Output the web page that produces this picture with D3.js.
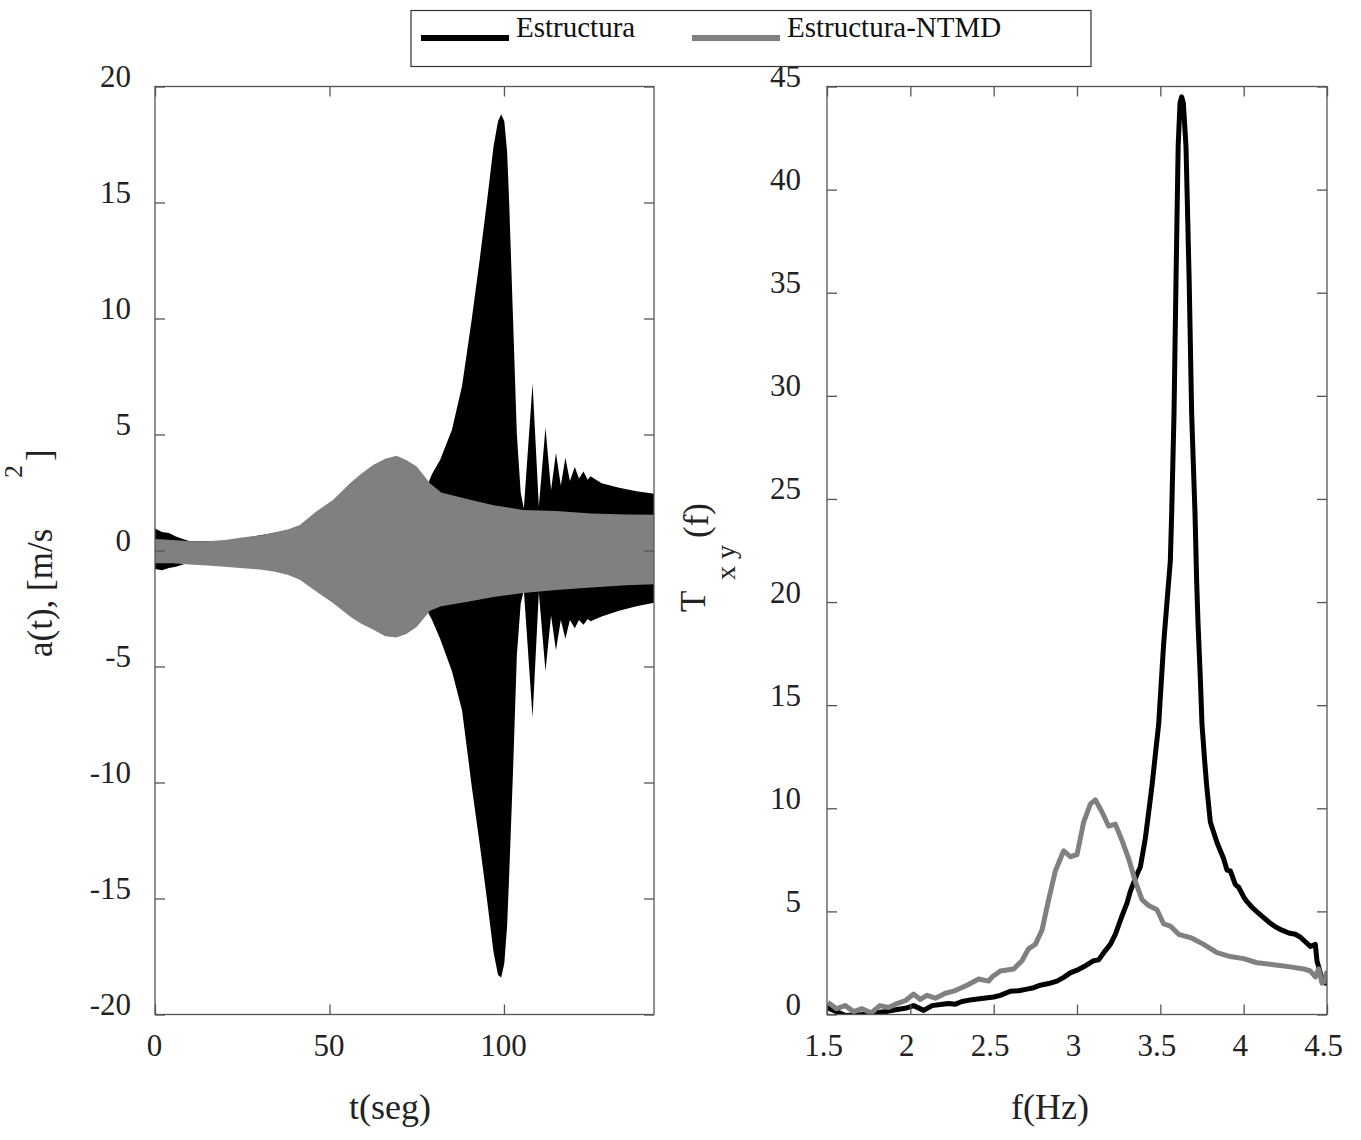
<!DOCTYPE html>
<html>
<head>
<meta charset="utf-8">
<script src="https://cdn.jsdelivr.net/npm/d3@7"></script>
<style>
body { margin: 0; background: #fff; }
svg { font-family: "Liberation Serif", "Times New Roman", serif; }
.axis path { stroke: none; }
.axis line { stroke: #555; stroke-width: 1.3; }
.axis text { fill: #222; font-size: 31px; font-family: "Liberation Serif", "Times New Roman", serif; }
.frame { fill: none; stroke: #555; stroke-width: 1.3; }
</style>
</head>
<body>
<div id="chart"></div>
<script>
// time history envelopes, a(t) in m/s^2
const timeBlack = [0, 2, 4, 6, 8, 10, 20, 40, 60, 76, 78, 79.4, 81.7, 85.1, 88, 90.8, 93.1, 95.1, 97, 98.3, 99.2, 100.1, 100.9,
    101.5, 102.6, 103.7, 104.8, 105.7, 108.2, 110, 111.9, 113.5, 114.9, 116.3, 117.6, 118.9, 120.3, 121.5, 122.8,
    124, 124.8, 128, 133, 138, 143];
const upperBlack = [0.95, 0.8, 0.75, 0.6, 0.5, 0.4, 0.4, 0.9, 2.5, 3.0, 2.8, 3.3, 3.9, 5.2, 7.1, 10.0, 12.6, 15.0, 17.4, 18.5, 18.8, 18.5, 17.2,
    15.0, 10.0, 5.0, 2.5, 1.8, 7.2, 1.9, 5.3, 2.6, 4.2, 2.8, 4.0, 3.0, 3.6, 3.1, 3.4,
    3.05, 3.2, 2.9, 2.7, 2.55, 2.45];
const lowerBlack = [-0.8, -0.85, -0.75, -0.7, -0.6, -0.5, -0.5, -1.0, -2.5, -3.0, -2.6, -3.0, -3.8, -5.2, -6.9, -10.2, -12.7, -15.0, -17.3, -18.3, -18.4, -17.8, -16.2,
    -14.0, -9.5, -4.5, -2.3, -1.7, -7.2, -1.8, -5.2, -2.8, -4.3, -3.0, -3.8, -3.0, -3.35, -3.0, -3.2,
    -2.95, -3.05, -2.85, -2.6, -2.4, -2.25];

const timeGray = [0, 5, 10, 15, 20, 24.4, 30, 34, 38, 41.5, 46.2, 51, 55.9, 59, 62.6, 66, 69.2, 72, 75, 78.8,
    82, 90, 97, 105.5, 115, 125, 135, 143];
const upperGray = [0.5, 0.45, 0.4, 0.4, 0.45, 0.55, 0.65, 0.78, 0.9, 1.1, 1.68, 2.18, 2.9, 3.3, 3.7, 3.95, 4.08, 3.9, 3.62, 2.9,
    2.5, 2.2, 1.95, 1.75, 1.7, 1.6, 1.55, 1.54];
const lowerGray = [-0.55, -0.55, -0.6, -0.65, -0.7, -0.75, -0.82, -0.9, -1.05, -1.26, -1.77, -2.26, -2.84, -3.15, -3.42, -3.7, -3.75, -3.6, -3.3, -2.6,
    -2.4, -2.2, -2.0, -1.83, -1.7, -1.6, -1.5, -1.45];

// transfer functions Txy(f)
const freqBlack = [1.5, 1.557, 1.61, 1.71, 1.79, 1.86, 1.92, 1.97, 2.02, 2.08, 2.13, 2.18, 2.23, 2.27, 2.31, 2.37, 2.44, 2.5,
    2.54, 2.6, 2.65, 2.7, 2.74, 2.78, 2.83, 2.88, 2.92, 2.96, 3.0, 3.04, 3.1, 3.13, 3.17, 3.2, 3.23, 3.27, 3.3, 3.32,
    3.36, 3.38, 3.41, 3.43, 3.45, 3.47, 3.49, 3.52, 3.54, 3.56, 3.568, 3.582, 3.594, 3.607, 3.618, 3.628, 3.638, 3.654,
    3.673, 3.688, 3.708, 3.718, 3.726, 3.74, 3.75, 3.765, 3.778, 3.8, 3.84, 3.88, 3.9, 3.92, 3.95, 3.97, 4.0, 4.02,
    4.05, 4.08, 4.12, 4.15, 4.19, 4.23, 4.27, 4.31, 4.34, 4.36, 4.4, 4.43, 4.44, 4.47, 4.49, 4.5];
const txyBlack = [0.34, 0.14, -0.05, 0.0, 0.08, 0.15, 0.24, 0.3, 0.43, 0.2, 0.43, 0.48, 0.53, 0.5, 0.63, 0.72, 0.79, 0.85,
    0.93, 1.13, 1.15, 1.23, 1.3, 1.42, 1.5, 1.62, 1.8, 2.02, 2.15, 2.31, 2.61, 2.65, 3.1, 3.4, 3.89, 4.78, 5.4, 5.97,
    6.8, 7.15, 8.54, 9.8, 11.1, 12.6, 14.07, 18.0, 20.0, 22.0, 24.3, 29.1, 35.6, 42.1, 44.2, 44.5, 44.2, 42.1,
    35.6, 29.1, 24.3, 21.0, 19.0, 16.3, 14.07, 12.4, 11.1, 9.33, 8.34, 7.55, 7.0, 6.96, 6.3, 6.17, 5.7, 5.47,
    5.2, 4.98, 4.7, 4.49, 4.25, 4.09, 3.95, 3.89, 3.75, 3.6, 3.3, 3.4, 2.6, 1.72, 1.52, 2.0];

const freqGray = [1.505, 1.557, 1.61, 1.66, 1.71, 1.765, 1.817, 1.87, 1.92, 1.97, 2.02, 2.06, 2.1, 2.15, 2.21, 2.26, 2.34,
    2.41, 2.47, 2.49, 2.54, 2.62, 2.67, 2.71, 2.75, 2.79, 2.83, 2.87, 2.92, 2.96, 3.0, 3.04, 3.08, 3.11, 3.15, 3.19,
    3.23, 3.27, 3.31, 3.35, 3.39, 3.43, 3.48, 3.52, 3.56, 3.61, 3.69, 3.76, 3.84, 3.92, 4.0, 4.08, 4.18, 4.28, 4.36,
    4.4, 4.43, 4.45, 4.47, 4.49, 4.5];
const txyGray = [0.59, 0.28, 0.43, 0.14, 0.28, 0.08, 0.43, 0.34, 0.53, 0.67, 0.99, 0.73, 0.93, 0.79, 1.03, 1.13, 1.42,
    1.72, 1.62, 1.82, 2.11, 2.21, 2.61, 3.2, 3.4, 4.09, 5.57, 6.96, 7.94, 7.65, 7.75, 9.33, 10.2, 10.41, 9.82, 9.13,
    9.23, 8.44, 7.55, 6.46, 5.57, 5.28, 5.08, 4.39, 4.29, 3.89, 3.7, 3.4, 3.0, 2.81, 2.71, 2.51, 2.41, 2.31, 2.21,
    2.11, 1.82, 2.21, 1.52, 1.62, 2.11];

const timeTicks = [0, 50, 100];
const accTicks = [-20, -15, -10, -5, 0, 5, 10, 15, 20];
const freqTicks = [1.5, 2, 2.5, 3, 3.5, 4, 4.5];
const txyTicks = [0, 5, 10, 15, 20, 25, 30, 35, 40, 45];

const seriesNames = ["Estructura", "Estructura-NTMD"];
const seriesColors = ["#000000", "#808080"];

const width = 1361, height = 1140;
const plotTop = 86.5, plotBottom = 1014.5;
const plain = d => String(d);   // hyphen minus like the original, not U+2212

const svg = d3.select("#chart")
    .append("svg")
    .attr("width", width)
    .attr("height", height);

// ---- left panel: a(t)
const xT = d3.scaleLinear().domain([0, 143]).range([155, 654]);
const yA = d3.scaleLinear().domain([-20, 20]).range([plotBottom, plotTop]);

const zip = (t, u, l) => t.map((v, i) => ({t: v, u: u[i], l: l[i]}));

const envelope = d3.area()
    .x(d => xT(d.t))
    .y0(d => yA(d.l))
    .y1(d => yA(d.u));

svg.append("path")
    .datum(zip(timeBlack, upperBlack, lowerBlack))
    .attr("fill", seriesColors[0])
    .attr("d", envelope);

svg.append("path")
    .datum(zip(timeGray, upperGray, lowerGray))
    .attr("fill", seriesColors[1])
    .attr("d", envelope);

function frame(x, y, xTicks, yTicks) {
    svg.append("rect")
        .attr("class", "frame")
        .attr("x", x.range()[0])
        .attr("y", y.range()[1])
        .attr("width", x.range()[1] - x.range()[0])
        .attr("height", y.range()[0] - y.range()[1]);

    svg.append("g").attr("class", "axis")
        .attr("transform", `translate(0,${y.range()[1]})`)
        .call(d3.axisTop(x).tickValues(xTicks).tickSize(-10).tickSizeOuter(0).tickFormat(""));
    svg.append("g").attr("class", "axis")
        .attr("transform", `translate(${x.range()[1]},0)`)
        .call(d3.axisRight(y).tickValues(yTicks).tickSize(-10).tickSizeOuter(0).tickFormat(""));
}

frame(xT, yA, timeTicks, accTicks);

svg.append("g").attr("class", "axis")
    .attr("transform", `translate(0,${plotBottom})`)
    .call(d3.axisBottom(xT).tickValues(timeTicks).tickSize(-10).tickSizeOuter(0).tickPadding(19).tickFormat(plain))
    .selectAll("text").attr("dx", -1);

svg.append("g").attr("class", "axis")
    .attr("transform", `translate(155,0)`)
    .call(d3.axisLeft(yA).tickValues(accTicks).tickSize(-10).tickSizeOuter(0).tickPadding(24).tickFormat(plain))
    .selectAll("text").attr("dy", 0);

// ---- right panel: Txy(f)
const xF = d3.scaleLinear().domain([1.5, 4.5]).range([827, 1327]);
const yT = d3.scaleLinear().domain([0, 45]).range([plotBottom, plotTop]);

svg.append("clipPath").attr("id", "clip-right")
    .append("rect")
    .attr("x", 827).attr("y", plotTop)
    .attr("width", 500).attr("height", plotBottom - plotTop);

const line = d3.line()
    .x(d => xF(d[0]))
    .y(d => yT(d[1]));

const curves = svg.append("g").attr("clip-path", "url(#clip-right)");

curves.append("path")
    .datum(freqBlack.map((f, i) => [f, txyBlack[i]]))
    .attr("fill", "none")
    .attr("stroke", seriesColors[0])
    .attr("stroke-width", 5)
    .attr("stroke-linejoin", "round")
    .attr("d", line);

curves.append("path")
    .datum(freqGray.map((f, i) => [f, txyGray[i]]))
    .attr("fill", "none")
    .attr("stroke", seriesColors[1])
    .attr("stroke-width", 5)
    .attr("stroke-linejoin", "round")
    .attr("d", line);

frame(xF, yT, freqTicks, txyTicks);

svg.append("g").attr("class", "axis")
    .attr("transform", `translate(0,${plotBottom})`)
    .call(d3.axisBottom(xF).tickValues(freqTicks).tickSize(-10).tickSizeOuter(0).tickPadding(19).tickFormat(plain))
    .selectAll("text").attr("dx", -4);

svg.append("g").attr("class", "axis")
    .attr("transform", `translate(827,0)`)
    .call(d3.axisLeft(yT).tickValues(txyTicks).tickSize(-10).tickSizeOuter(0).tickPadding(26).tickFormat(plain))
    .selectAll("text").attr("dy", 0);

// ---- axis titles
svg.append("text")
    .attr("x", 390).attr("y", 1119)
    .attr("text-anchor", "middle")
    .attr("font-size", 36)
    .attr("fill", "#222")
    .text("t(seg)");

svg.append("text")
    .attr("x", 1050).attr("y", 1119)
    .attr("text-anchor", "middle")
    .attr("font-size", 36)
    .attr("fill", "#222")
    .text("f(Hz)");

const vlabel = (x, y, size, str) => svg.append("text")
    .attr("transform", `translate(${x},${y}) rotate(-90)`)
    .attr("font-size", size)
    .attr("fill", "#222")
    .text(str);

vlabel(52, 657, 35, "a(t), [m/s");
vlabel(22, 478, 26, "2");
vlabel(51, 461, 35, "]");

vlabel(705, 612, 35, "T");
vlabel(735, 580, 28, "x y");
vlabel(708, 538, 35, "(f)");

// ---- legend
const legend = svg.append("g");

legend.append("rect")
    .attr("x", 411).attr("y", 10.5)
    .attr("width", 680).attr("height", 56)
    .attr("fill", "#fff")
    .attr("stroke", "#333")
    .attr("stroke-width", 1.2);

const legendX = [421, 692];

seriesNames.forEach((name, i) => {
    legend.append("line")
        .attr("x1", legendX[i]).attr("x2", legendX[i] + 88)
        .attr("y1", 38).attr("y2", 38)
        .attr("stroke", seriesColors[i])
        .attr("stroke-width", 6);
    legend.append("text")
        .attr("x", legendX[i] + 95).attr("y", 37)
        .attr("font-size", 29)
        .attr("fill", "#111")
        .text(name);
});
</script>
</body>
</html>
